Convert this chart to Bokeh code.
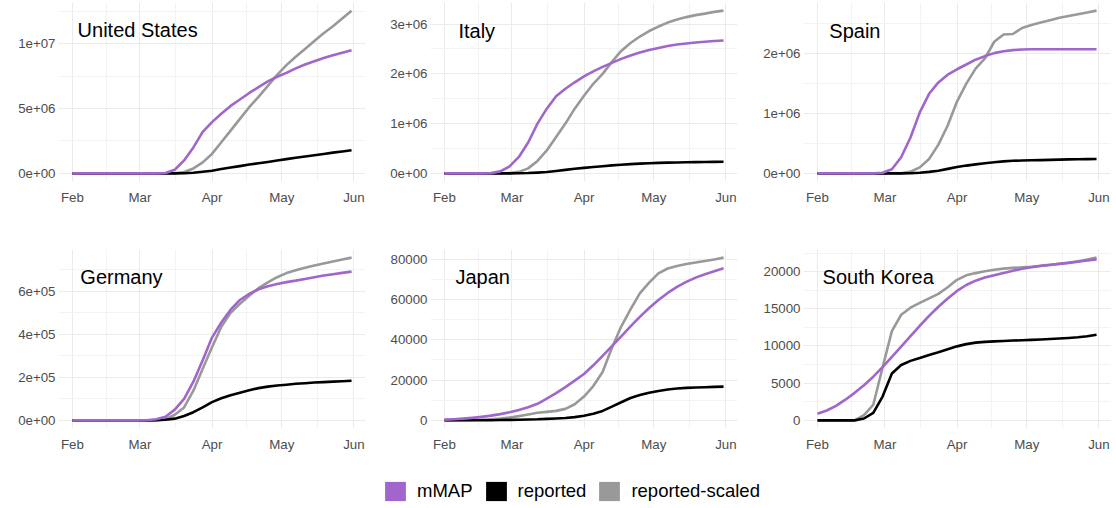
from bokeh.plotting import figure
from bokeh.layouts import column, row
from bokeh.models import Range1d, FixedTicker, Label, Legend, LegendItem
from bokeh.embed import file_html
from bokeh.resources import INLINE

# ---------------- data (days since 1 Feb 2020) ----------------
DAYS = [0, 4, 8, 12, 16, 20, 24, 28, 32, 36, 40, 44, 48, 52, 56, 60,
        64, 68, 72, 76, 80, 84, 88, 92, 96, 100, 104, 108, 112, 116, 120]

MONTH_TICKS = [0, 29, 60, 90, 121]
MONTH_LABELS = ["Feb", "Mar", "Apr", "May", "Jun"]
MONTH_MINOR = [14.5, 44.5, 75, 105.5]

SERIES_NAMES = ["mMAP", "reported", "reported-scaled"]
COUNTRIES = ["United States", "Italy", "Spain", "Germany", "Japan", "South Korea"]

US_MMAP = [0, 0, 0, 0, 0, 0, 0, 0, 0, 0, 0.03e6, 0.28e6, 1.0e6, 2.0e6, 3.2e6, 3.95e6,
           4.6e6, 5.2e6, 5.7e6, 6.2e6, 6.65e6, 7.1e6, 7.45e6, 7.75e6, 8.1e6, 8.4e6,
           8.65e6, 8.9e6, 9.1e6, 9.3e6, 9.5e6]
US_REP = [0, 0, 0, 0, 0, 0, 0, 0, 0, 0, 0, 0, 0.01e6, 0.05e6, 0.12e6, 0.2e6,
          0.33e6, 0.45e6, 0.56e6, 0.68e6, 0.78e6, 0.88e6, 0.99e6, 1.1e6, 1.2e6, 1.3e6,
          1.4e6, 1.5e6, 1.6e6, 1.69e6, 1.78e6]
US_SCALED = [0, 0, 0, 0, 0, 0, 0, 0, 0, 0, 0, 0, 0.1e6, 0.38e6, 0.85e6, 1.5e6,
             2.4e6, 3.3e6, 4.2e6, 5.1e6, 5.9e6, 6.75e6, 7.6e6, 8.35e6, 9.0e6, 9.6e6,
             10.2e6, 10.8e6, 11.35e6, 11.95e6, 12.55e6]

ITA_MMAP = [0, 0, 0, 0, 0, 0.005e6, 0.04e6, 0.14e6, 0.33e6, 0.62e6, 1.0e6, 1.3e6,
            1.55e6, 1.7e6, 1.83e6, 1.95e6, 2.05e6, 2.14e6, 2.22e6, 2.3e6, 2.37e6,
            2.43e6, 2.48e6, 2.52e6, 2.56e6, 2.59e6, 2.61e6, 2.63e6, 2.645e6, 2.66e6, 2.67e6]
ITA_REP = [0, 0, 0, 0, 0, 0, 0, 0, 0.002e6, 0.006e6, 0.015e6, 0.028e6, 0.047e6,
           0.07e6, 0.093e6, 0.11e6, 0.128e6, 0.144e6, 0.16e6, 0.173e6, 0.185e6,
           0.195e6, 0.203e6, 0.21e6, 0.215e6, 0.219e6, 0.223e6, 0.226e6, 0.228e6,
           0.23e6, 0.233e6]
ITA_SCALED = [0, 0, 0, 0, 0, 0, 0, 0.005e6, 0.03e6, 0.1e6, 0.25e6, 0.46e6, 0.73e6,
              1.0e6, 1.3e6, 1.56e6, 1.8e6, 2.0e6, 2.24e6, 2.46e6, 2.62e6, 2.75e6,
              2.86e6, 2.95e6, 3.03e6, 3.09e6, 3.14e6, 3.18e6, 3.21e6, 3.245e6, 3.27e6]

ESP_MMAP = [0, 0, 0, 0, 0, 0, 0, 0.01e6, 0.07e6, 0.27e6, 0.6e6, 1.02e6, 1.33e6,
            1.52e6, 1.65e6, 1.74e6, 1.82e6, 1.9e6, 1.96e6, 2.01e6, 2.04e6, 2.06e6,
            2.07e6, 2.075e6, 2.075e6, 2.075e6, 2.075e6, 2.075e6, 2.075e6, 2.075e6, 2.075e6]
ESP_REP = [0, 0, 0, 0, 0, 0, 0, 0, 0, 0, 0.002e6, 0.01e6, 0.025e6, 0.045e6, 0.075e6,
           0.105e6, 0.13e6, 0.15e6, 0.168e6, 0.185e6, 0.2e6, 0.21e6, 0.215e6, 0.218e6,
           0.222e6, 0.226e6, 0.23e6, 0.233e6, 0.235e6, 0.238e6, 0.24e6]
ESP_SCALED = [0, 0, 0, 0, 0, 0, 0, 0, 0, 0, 0.03e6, 0.1e6, 0.24e6, 0.48e6, 0.8e6,
              1.2e6, 1.5e6, 1.75e6, 1.92e6, 2.2e6, 2.32e6, 2.33e6, 2.43e6, 2.48e6,
              2.52e6, 2.56e6, 2.6e6, 2.63e6, 2.66e6, 2.69e6, 2.72e6]

DEU_MMAP = [0, 0, 0, 0, 0, 0, 0, 0, 0.005e5, 0.05e5, 0.17e5, 0.5e5, 1.0e5, 1.8e5,
            2.8e5, 3.85e5, 4.55e5, 5.15e5, 5.6e5, 5.88e5, 6.1e5, 6.24e5, 6.34e5,
            6.43e5, 6.5e5, 6.58e5, 6.66e5, 6.74e5, 6.8e5, 6.86e5, 6.92e5]
DEU_REP = [0, 0, 0, 0, 0, 0, 0, 0, 0, 0.01e5, 0.03e5, 0.08e5, 0.2e5, 0.38e5, 0.6e5,
           0.85e5, 1.03e5, 1.17e5, 1.28e5, 1.4e5, 1.5e5, 1.57e5, 1.62e5, 1.66e5,
           1.7e5, 1.73e5, 1.76e5, 1.78e5, 1.8e5, 1.82e5, 1.84e5]
DEU_SCALED = [0, 0, 0, 0, 0, 0, 0, 0, 0, 0, 0.06e5, 0.26e5, 0.6e5, 1.38e5, 2.4e5,
              3.4e5, 4.35e5, 5.0e5, 5.42e5, 5.8e5, 6.15e5, 6.42e5, 6.66e5, 6.85e5,
              6.98e5, 7.1e5, 7.2e5, 7.3e5, 7.39e5, 7.48e5, 7.57e5]

JPN_MMAP = [350, 550, 850, 1250, 1750, 2350, 3100, 4000, 5100, 6500, 8200, 10800,
            13500, 16500, 19700, 23000, 27300, 32000, 36800, 41700, 46600, 51300,
            55700, 59700, 63200, 66200, 68700, 70800, 72500, 74000, 75400]
JPN_REP = [20, 20, 25, 30, 50, 90, 150, 230, 320, 420, 520, 740, 900, 1150, 1600,
           2300, 3300, 4700, 6800, 9000, 11100, 12600, 13700, 14600, 15300, 15800,
           16100, 16300, 16450, 16600, 16750]
JPN_SCALED = [0, 0, 50, 150, 300, 550, 900, 1450, 2100, 2900, 3800, 4200, 4700, 5700,
              8000, 11800, 17000, 24000, 36000, 46500, 55000, 63000, 68300, 72900,
              75300, 76600, 77500, 78300, 79000, 79800, 80700]

KOR_MMAP = [890, 1330, 1950, 2780, 3700, 4720, 5870, 7150, 8530, 9930, 11320, 12720,
            14050, 15270, 16380, 17400, 18200, 18780, 19200, 19520, 19820, 20120,
            20380, 20590, 20760, 20900, 21040, 21180, 21330, 21490, 21650]
KOR_REP = [0, 0, 0, 0, 0, 250, 1000, 3200, 6300, 7450, 8000, 8400, 8800, 9150, 9550,
           9950, 10250, 10450, 10550, 10620, 10680, 10730, 10780, 10820, 10870, 10930,
           11000, 11080, 11170, 11300, 11500]
KOR_SCALED = [0, 0, 0, 0, 0, 700, 2100, 7100, 12000, 14200, 15150, 15800, 16400,
              17000, 17900, 18900, 19500, 19800, 20050, 20250, 20400, 20500, 20580,
              20650, 20800, 20920, 21050, 21200, 21400, 21620, 21880]

# y-axis ticks / labels per panel
US_TICKS = [0, 5e6, 1e7];          US_LABELS = ["0e+00", "5e+06", "1e+07"];   US_MINOR = [2.5e6, 7.5e6, 1.25e7]
ITA_TICKS = [0, 1e6, 2e6, 3e6];    ITA_LABELS = ["0e+00", "1e+06", "2e+06", "3e+06"]; ITA_MINOR = [0.5e6, 1.5e6, 2.5e6]
ESP_TICKS = [0, 1e6, 2e6];         ESP_LABELS = ["0e+00", "1e+06", "2e+06"];  ESP_MINOR = [0.5e6, 1.5e6, 2.5e6]
DEU_TICKS = [0, 2e5, 4e5, 6e5];    DEU_LABELS = ["0e+00", "2e+05", "4e+05", "6e+05"]; DEU_MINOR = [1e5, 3e5, 5e5, 7e5]
JPN_TICKS = [0, 20000, 40000, 60000, 80000]; JPN_LABELS = ["0", "20000", "40000", "60000", "80000"]
JPN_MINOR = [10000, 30000, 50000, 70000]
KOR_TICKS = [0, 5000, 10000, 15000, 20000];  KOR_LABELS = ["0", "5000", "10000", "15000", "20000"]
KOR_MINOR = [2500, 7500, 12500, 17500, 22500]

# ---------------- styling ----------------
COLORS = {"mMAP": "#A066CC", "reported": "#000000", "reported-scaled": "#999999"}
FONT = "Liberation Sans"
TITLE_X = [2.2, 6.0, 5.1, 3.4, 4.7, 2.2]          # left edge of facet title (days)
TITLE_FRAC = [0.155, 0.16, 0.16, 0.155, 0.152, 0.156]  # from top of frame
BORDER_L = [58, 50, 50]
BORDER_R = [15, 16, 6]
BORDER_T = [2, 2]
BORDER_B = [66, 30]

PANELS = [
    (US_MMAP, US_REP, US_SCALED, US_TICKS, US_LABELS, US_MINOR),
    (ITA_MMAP, ITA_REP, ITA_SCALED, ITA_TICKS, ITA_LABELS, ITA_MINOR),
    (ESP_MMAP, ESP_REP, ESP_SCALED, ESP_TICKS, ESP_LABELS, ESP_MINOR),
    (DEU_MMAP, DEU_REP, DEU_SCALED, DEU_TICKS, DEU_LABELS, DEU_MINOR),
    (JPN_MMAP, JPN_REP, JPN_SCALED, JPN_TICKS, JPN_LABELS, JPN_MINOR),
    (KOR_MMAP, KOR_REP, KOR_SCALED, KOR_TICKS, KOR_LABELS, KOR_MINOR),
]

figs = []
for i, (mmap, rep, scaled, yt, yl, ym) in enumerate(PANELS):
    col = i % 3
    rw = i // 3
    ymax = max(max(mmap), max(rep), max(scaled))
    ymin = min(min(mmap), min(rep), min(scaled))
    span = ymax - ymin
    y0, y1 = ymin - 0.05 * span, ymax + 0.05 * span
    p = figure(frame_width=307, frame_height=179,
               min_border_left=BORDER_L[col], min_border_right=BORDER_R[col],
               min_border_top=BORDER_T[rw], min_border_bottom=BORDER_B[rw],
               x_range=Range1d(-6, 126), y_range=Range1d(y0, y1),
               toolbar_location=None, output_backend="svg",
               outline_line_color=None, background_fill_color="white",
               border_fill_color="white")
    for g in (p.xgrid, p.ygrid):
        g.grid_line_color = "#EBEBEB"
        g.grid_line_width = 1.1
        g.minor_grid_line_color = "#F3F3F3"
        g.minor_grid_line_width = 1
    p.xaxis.ticker = FixedTicker(ticks=MONTH_TICKS, minor_ticks=MONTH_MINOR)
    p.xaxis.major_label_overrides = {t: s for t, s in zip(MONTH_TICKS, MONTH_LABELS)}
    p.yaxis.ticker = FixedTicker(ticks=yt, minor_ticks=ym)
    p.yaxis.major_label_overrides = {t: s for t, s in zip(yt, yl)}
    for ax in (p.xaxis, p.yaxis):
        ax.axis_line_color = None
        ax.major_tick_line_color = None
        ax.minor_tick_line_color = None
        ax.major_tick_out = 0
        ax.major_tick_in = 0
        ax.minor_tick_out = 0
        ax.minor_tick_in = 0
        ax.major_label_text_font = FONT
        ax.major_label_text_font_size = "13.3px"
        ax.major_label_text_color = "#4D4D4D"
    p.xaxis.major_label_standoff = 8
    p.yaxis.major_label_standoff = 3
    # lines: scaled (bottom), reported, mMAP (top)
    p.line(DAYS, scaled, line_color=COLORS["reported-scaled"], line_width=2.6, line_join="round")
    p.line(DAYS, rep, line_color=COLORS["reported"], line_width=2.6, line_join="round")
    p.line(DAYS, mmap, line_color=COLORS["mMAP"], line_width=2.6, line_join="round")
    ty = y1 - TITLE_FRAC[i] * (y1 - y0)
    p.add_layout(Label(x=TITLE_X[i], y=ty, text=COUNTRIES[i], text_font=FONT,
                       text_font_size="20px", text_color="#000000",
                       text_align="left", text_baseline="middle"))
    figs.append(p)

# ---------------- legend ----------------
leg = figure(width=1116, height=50, x_range=(0, 1), y_range=(0, 1),
             x_axis_type=None, y_axis_type=None, toolbar_location=None,
             output_backend="svg", min_border_left=0, min_border_right=0,
             min_border_top=0, min_border_bottom=0, outline_line_color=None)
items = []
for name in SERIES_NAMES:
    # off-range placeholder glyph: only its legend swatch is seen
    r = leg.rect(x=[-5], y=[-5], width=0.1, height=0.1,
                 fill_color=COLORS[name], line_color=None)
    items.append(LegendItem(label=name, renderers=[r]))
legend = Legend(items=items, location=(382, 5), orientation="horizontal",
                glyph_width=26, glyph_height=24, label_standoff=9, spacing=10,
                padding=0, margin=0, border_line_color=None,
                background_fill_alpha=0, label_text_font=FONT,
                label_text_font_size="18.5px", label_text_color="#000000")
leg.add_layout(legend, "center")

layout = column(row(*figs[:3]), row(*figs[3:]), leg)
open("out.html", "w").write(file_html(layout, INLINE))
